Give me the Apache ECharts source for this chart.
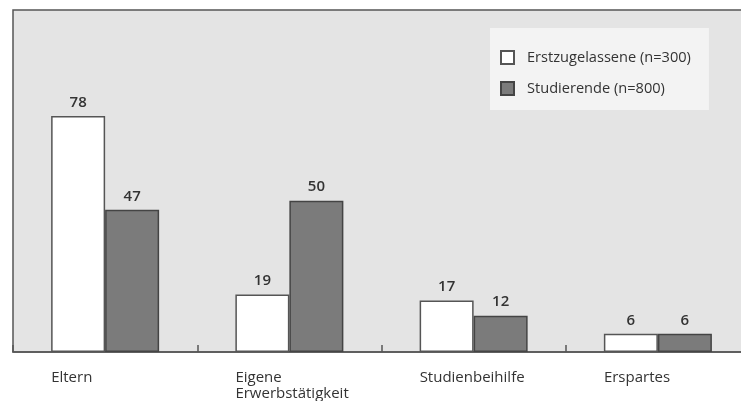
<!DOCTYPE html>
<html>
<head>
<meta charset="utf-8">
<script src="https://cdn.jsdelivr.net/npm/echarts@6/dist/echarts.min.js"></script>
<style>
  html, body { margin: 0; padding: 0; background: #fff; }
  #main { width: 741px; height: 401px; }
</style>
</head>
<body>
<div id="main"></div>
<script>
const categories = ['Eltern', 'Eigene\nErwerbstätigkeit', 'Studienbeihilfe', 'Erspartes'];
const seriesNames = ['Erstzugelassene (n=300)', 'Studierende (n=800)'];
const erstzugelassene = [78, 19, 17, 6];
const studierende = [47, 50, 12, 6];

const FONT = '"Open Sans", sans-serif';

const myChart = echarts.init(document.getElementById('main'));

const valueLabel = {
    show: true,
    position: 'top',
    distance: 6,
    color: '#333',
    fontFamily: FONT,
    fontSize: 15,
    fontWeight: 600
};

const option = {
    animation: false,
    backgroundColor: '#fff',
    grid: {
        left: 13, top: 10, width: 737, bottom: 49,
        outerBoundsMode: 'none',
        containLabel: false,
        show: true,
        backgroundColor: '#e4e4e4',
        borderColor: '#555',
        borderWidth: 1.5
    },
    legend: {
        orient: 'vertical',
        left: 490,
        top: 28,
        padding: [22, 18, 14, 10],
        backgroundColor: '#f3f3f3',
        itemWidth: 13,
        itemHeight: 13,
        itemGap: 16,
        icon: 'rect',
        data: seriesNames,
        textStyle: {
            color: '#333',
            fontFamily: FONT,
            fontSize: 14.6,
            padding: [0, 0, 0, 8]
        }
    },
    xAxis: {
        type: 'category',
        data: categories,
        axisLine: { lineStyle: { color: '#555', width: 1.5 } },
        axisTick: { show: true, inside: true, length: 7, lineStyle: { color: '#555', width: 1.5 } },
        axisLabel: {
            margin: 18,
            align: 'center',
            formatter: v => v.split('\n').map(s => '{a|' + s + '}').join('\n'),
            rich: {
                a: {
                    width: 108,
                    align: 'left',
                    color: '#333',
                    fontFamily: FONT,
                    fontSize: 15,
                    lineHeight: 16
                }
            }
        }
    },
    yAxis: {
        type: 'value',
        min: 0,
        max: 113,
        show: false,
        splitLine: { show: false }
    },
    series: [
        {
            name: seriesNames[0],
            type: 'bar',
            data: erstzugelassene,
            barWidth: 54,
            barGap: '0%',
            itemStyle: { color: '#ffffff', borderColor: '#555', borderWidth: 1.5 },
            label: valueLabel
        },
        {
            name: seriesNames[1],
            type: 'bar',
            data: studierende,
            barWidth: 54,
            barGap: '0%',
            itemStyle: { color: '#7b7b7b', borderColor: '#444', borderWidth: 1.5 },
            label: valueLabel
        }
    ]
};

myChart.setOption(option);
</script>
</body>
</html>
